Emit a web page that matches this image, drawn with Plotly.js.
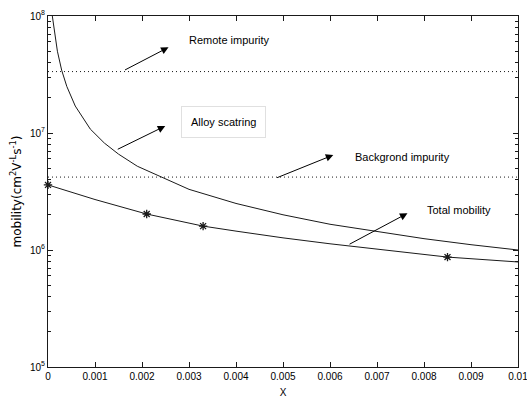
<!DOCTYPE html>
<html>
<head>
<meta charset="utf-8">
<script src="https://cdn.plot.ly/plotly-3.0.1.min.js"></script>
<style>
html,body{margin:0;padding:0;background:#fff;}
#chart{width:527px;height:399px;}
</style>
</head>
<body>
<div id="chart"></div>
<script>
// Alloy scattering mobility
const alloyX = [0.000092, 0.00015, 0.0002, 0.00029, 0.0004, 0.00058, 0.0007, 0.0009, 0.0012, 0.0015, 0.0019, 0.0024, 0.003, 0.004, 0.005, 0.006, 0.007, 0.008, 0.009, 0.01];
const alloyY = [1.0e8, 6.6e7, 5.0e7, 3.45e7, 2.5e7, 1.7e7, 1.43e7, 1.08e7, 8.2e6, 6.6e6, 5.2e6, 4.2e6, 3.3e6, 2.5e6, 2.0e6, 1.66e6, 1.43e6, 1.25e6, 1.11e6, 1.0e6];
// Total mobility
const totalX = [0, 0.001, 0.0021, 0.0033, 0.004, 0.005, 0.006, 0.007, 0.0085, 0.01];
const totalY = [3.6e6, 2.7e6, 2.03e6, 1.6e6, 1.45e6, 1.27e6, 1.13e6, 1.02e6, 8.7e5, 7.9e5];
// Marked points on total mobility
const markX = [0, 0.0021, 0.0033, 0.0085];
const markY = [3.6e6, 2.03e6, 1.6e6, 8.7e5];
// Constant mobilities
const constX = [0, 0.01];
const remoteY = [3.35e7, 3.35e7];
const backgroundY = [4.2e6, 4.2e6];
// Ticks
const xTickVals = [0, 0.001, 0.002, 0.003, 0.004, 0.005, 0.006, 0.007, 0.008, 0.009, 0.01];
const xTickText = ["0", "0.001", "0.002", "0.003", "0.004", "0.005", "0.006", "0.007", "0.008", "0.009", "0.01"];
const yTickVals = [1e5, 1e6, 1e7, 1e8];
const yTickText = ["10<sup>5</sup>", "10<sup>6</sup>", "10<sup>7</sup>", "10<sup>8</sup>"];
const yMinorVals = [];
[1e5, 1e6, 1e7].forEach(d => { for (let k = 2; k <= 9; k++) yMinorVals.push(d * k); });

const lineCol = '#1a1a1a';
const traces = [
  {x: constX, y: remoteY, mode: 'lines', line: {color: lineCol, width: 1, dash: '1px,3px'}, hoverinfo: 'skip'},
  {x: constX, y: backgroundY, mode: 'lines', line: {color: lineCol, width: 1, dash: '1px,3px'}, hoverinfo: 'skip'},
  {x: alloyX, y: alloyY, mode: 'lines', line: {color: lineCol, width: 1}},
  {x: totalX, y: totalY, mode: 'lines', line: {color: lineCol, width: 1}},
  {x: markX, y: markY, mode: 'markers', marker: {symbol: 'asterisk-open', size: 7, color: lineCol, line: {color: lineCol, width: 1.3}}, cliponaxis: false}
];

const fontFam = '"Liberation Sans", Arial, sans-serif';
function ann(text, x, ly, opts) {
  return Object.assign({text: text, x: x, y: ly, xref: 'x', yref: 'y', showarrow: false,
    xanchor: 'left', yanchor: 'middle', font: {family: fontFam, size: 11, color: '#000'}}, opts || {});
}
function arrow(x, ly, ax, ay) {
  return {text: '', x: x, y: ly, xref: 'x', yref: 'y', showarrow: true, ax: ax, ay: ay,
    arrowhead: 2, arrowsize: 1.5, arrowwidth: 1, arrowcolor: '#000', standoff: 0};
}

const layout = {
  width: 527, height: 399,
  margin: {l: 48, r: 9, t: 16, b: 32},
  paper_bgcolor: '#fff', plot_bgcolor: '#fff',
  showlegend: false,
  font: {family: fontFam, size: 10, color: '#000'},
  xaxis: {
    range: [0, 0.01], tickmode: 'array', tickvals: xTickVals, ticktext: xTickText,
    ticks: 'inside', ticklen: 5, tickcolor: lineCol, showline: true, linecolor: lineCol, linewidth: 1,
    mirror: 'ticks', showgrid: false, zeroline: false, ticklabeloverflow: 'allow',
    tickfont: {family: fontFam, size: 10},
    title: {text: 'X', font: {family: fontFam, size: 10}, standoff: 7}
  },
  yaxis: {
    type: 'log', range: [5, 8], tickmode: 'array', tickvals: yTickVals, ticktext: yTickText,
    ticks: 'inside', ticklen: 5, tickcolor: lineCol, showline: true, linecolor: lineCol, linewidth: 1,
    mirror: 'ticks', showgrid: false, zeroline: false,
    minor: {tickmode: 'array', tickvals: yMinorVals, ticks: 'inside', ticklen: 3, tickcolor: lineCol, showgrid: false},
    tickfont: {family: fontFam, size: 10},
    title: {text: 'mobility(cm<sup>2</sup>V<sup>-L</sup>s<sup>-1</sup>)', font: {family: '"DejaVu Sans", sans-serif', size: 12}, standoff: 5}
  },
  annotations: [
    ann('Remote impurity', 0.002964, 7.795),
    arrow(0.002565, 7.7325, -45, 23.4),
    ann('Alloy scatring', 0.003727, 7.0966, {xanchor: 'center', bordercolor: '#e0e0e0', borderwidth: 1, borderpad: 9}),
    arrow(0.002495, 7.0598, -49, 24),
    ann('Backgrond impurity', 0.006497, 6.797),
    arrow(0.00607, 6.812, -57.7, 23.3),
    ann('Total mobility', 0.008017, 6.342),
    arrow(0.007648, 6.3137, -59.4, 31.7)
  ]
};

Plotly.newPlot('chart', traces, layout, {staticPlot: true, displayModeBar: false});
</script>
</body>
</html>
